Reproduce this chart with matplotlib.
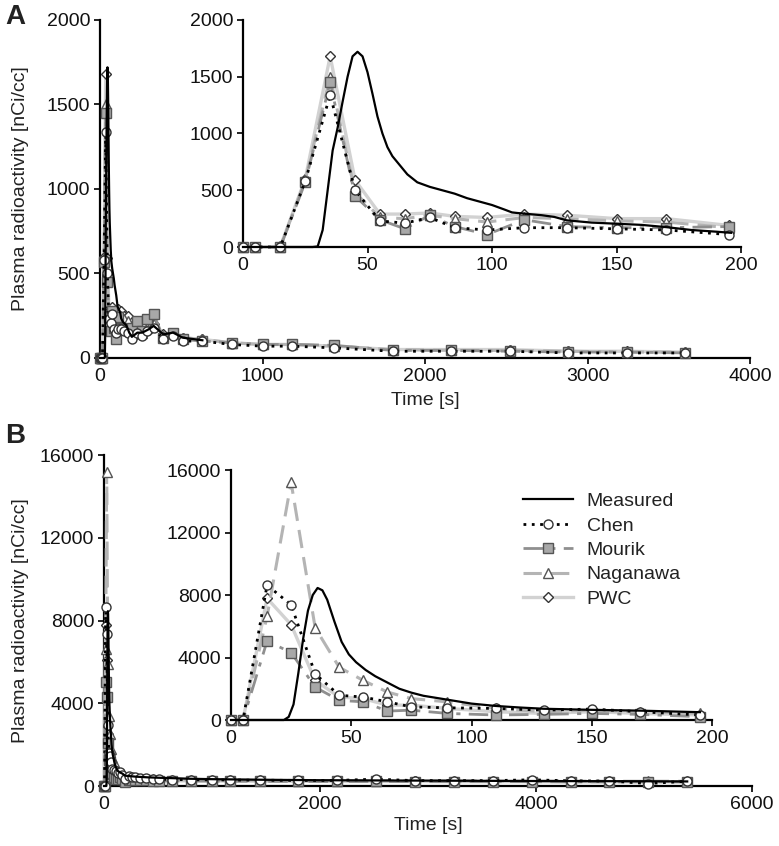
import numpy as np
import matplotlib
matplotlib.use("Agg")
import matplotlib.pyplot as plt

plt.rcParams['font.family'] = ['Liberation Sans', 'DejaVu Sans']
plt.rcParams['font.size'] = 14
plt.rcParams['text.color'] = '#222222'
plt.rcParams['axes.labelcolor'] = '#222222'
plt.rcParams['xtick.color'] = '#111111'
plt.rcParams['ytick.color'] = '#111111'

# ---------------- Panel A data ----------------
t_meas_a = [0, 28, 30, 32, 34, 36, 38, 40, 42, 44, 46, 48, 50, 52, 54, 56, 58, 60, 63, 66,
            70, 75, 80, 85, 90, 95, 100, 105, 108, 110, 115, 120, 125, 130, 140, 150, 160,
            170, 180, 190, 196, 230, 260, 300, 330, 390, 450, 510, 630]
meas_a = [0, 0, 5, 150, 500, 850, 1050, 1280, 1500, 1680, 1720, 1680, 1540, 1350, 1150, 1000,
          880, 800, 720, 640, 570, 530, 500, 470, 430, 400, 370, 330, 305, 300, 290, 280, 265,
          235, 215, 205, 195, 175, 150, 135, 125, 150, 150, 170, 190, 140, 150, 120, 105]

t_mod_a = [0, 5, 15, 25, 35, 45, 55, 65, 75, 85, 98, 113, 130, 150, 170, 195,
           230, 260, 290, 330, 390, 450, 510, 630, 810, 1000, 1180, 1440, 1800, 2160,
           2520, 2880, 3240, 3600]
chen_a = [0, 0, 0, 580, 1340, 500, 230, 210, 260, 170, 150, 170, 170, 160, 150, 110,
          150, 130, 160, 180, 110, 130, 100, 100, 80, 70, 70, 60, 40, 40, 40, 30, 30, 30]
mourik_a = [0, 0, 0, 570, 1450, 450, 240, 160, 280, 180, 110, 240, 180, 170, 170, 180,
            220, 160, 230, 260, 120, 150, 110, 100, 90, 80, 80, 75, 45, 45, 40, 35, 35, 30]
naga_a = [0, 0, 0, 590, 1500, 480, 260, 250, 280, 250, 220, 260, 250, 230, 220, 170,
          160, 150, 180, 200, 130, 150, 120, 110, 90, 80, 80, 70, 50, 45, 45, 40, 35, 35]
pwc_a = [0, 0, 5, 600, 1680, 590, 290, 290, 300, 270, 260, 290, 280, 250, 250, 190,
         140, 150, 170, 200, 140, 150, 120, 110, 90, 80, 80, 70, 50, 50, 50, 40, 40, 35]

# ---------------- Panel B data ----------------
t_meas_b = [0, 20, 22, 24, 26, 28, 30, 32, 34, 36, 38, 40, 43, 46, 49, 52, 56, 60, 65, 70,
            75, 80, 90, 100, 110, 120, 130, 150, 170, 195, 230, 300, 400, 500, 630, 800,
            1000, 1500, 2000, 3000, 4000, 5000, 5400]
meas_b = [0, 0, 0, 200, 1000, 3000, 5200, 7000, 8000, 8450, 8300, 7700, 6300, 5000, 4200,
          3700, 3200, 2800, 2400, 2000, 1750, 1550, 1300, 1050, 900, 800, 720, 650, 600, 500,
          480, 450, 420, 400, 380, 350, 330, 300, 280, 260, 240, 230, 220]

t_mod_b = [0, 5, 15, 25, 35, 45, 55, 65, 75, 90, 110, 130, 150, 170, 195,
           230, 260, 290, 330, 390, 450, 510, 630, 810, 1000, 1170, 1440, 1800, 2160,
           2520, 2880, 3240, 3600, 3960, 4320, 4680, 5040, 5400]
chen_b = [0, 0, 8630, 7370, 2950, 1580, 1470, 1160, 840, 780, 740, 630, 700, 530, 320,
          500, 450, 420, 400, 380, 350, 330, 310, 300, 300, 290, 280, 270, 270, 330, 260,
          260, 260, 300, 250, 240, 120, 230]
mourik_b = [0, 0, 5050, 4320, 2100, 1260, 1160, 570, 630, 420, 320, 360, 420, 360, 210,
            300, 300, 280, 280, 270, 260, 250, 250, 240, 240, 230, 230, 220, 220, 220, 210,
            210, 210, 210, 200, 200, 200, 200]
naga_b = [0, 0, 6630, 15200, 5900, 3370, 2530, 1790, 1370, 1160, 740, 530, 630, 530, 420,
          400, 380, 360, 350, 330, 320, 310, 300, 290, 280, 280, 270, 260, 260, 250, 250,
          250, 240, 240, 240, 230, 230, 230]
pwc_b = [0, 0, 7790, 6100, 2530, 1470, 1370, 950, 950, 740, 530, 420, 530, 420, 320,
         320, 300, 300, 290, 280, 270, 260, 250, 250, 240, 240, 230, 230, 220, 220, 220,
         210, 210, 210, 200, 200, 200, 200]

# ---------------- styles ----------------
styles = {
    'PWC': dict(color='#d2d2d2', lw=2.4, ls='-', marker='D', ms=5.5, mfc='white', mec='#333333', mew=1.0),
    'Naganawa': dict(color='#b4b4b4', lw=2.2, ls=(0, (6, 3)), marker='^', ms=6.5, mfc='white', mec='#555555', mew=1.0),
    'Mourik': dict(color='#8f8f8f', lw=2.0, ls=(0, (7, 3, 1.5, 3)), marker='s', ms=6.5, mfc='#a8a8a8', mec='#555555', mew=1.0),
    'Chen': dict(color='black', lw=2.0, ls=(0, (1, 2)), marker='o', ms=6.5, mfc='white', mec='#333333', mew=1.0),
}


def style_axes(ax):
    for s in ['top', 'right']:
        ax.spines[s].set_visible(False)
    for s in ['left', 'bottom']:
        ax.spines[s].set_linewidth(1.6)
    ax.tick_params(direction='out', length=4, width=1.3, pad=3, labelsize=14)


def draw(ax, t_meas, meas, t_mod, models, xmax):
    tm = np.array(t_mod)
    keep = tm <= xmax
    handles = {}
    for name in ['PWC', 'Naganawa', 'Mourik', 'Chen']:
        v = np.array(models[name])
        h, = ax.plot(tm[keep], v[keep], label=name, clip_on=False, zorder=3, **styles[name])
        handles[name] = h
    tmm = np.array(t_meas)
    vm = np.array(meas)
    k2 = tmm <= xmax
    h, = ax.plot(tmm[k2], vm[k2], color='black', lw=1.6, label='Measured', zorder=4, clip_on=False)
    handles['Measured'] = h
    return handles


W, H = 779, 846
fig = plt.figure(figsize=(W / 100, H / 100), dpi=100)


def axpx(l, r, top, bot):
    return fig.add_axes([l / W, (H - bot) / H, (r - l) / W, (bot - top) / H])


models_a = {'Chen': chen_a, 'Mourik': mourik_a, 'Naganawa': naga_a, 'PWC': pwc_a}
models_b = {'Chen': chen_b, 'Mourik': mourik_b, 'Naganawa': naga_b, 'PWC': pwc_b}

# Panel A main
axA = axpx(100, 750, 20, 358)
draw(axA, t_meas_a, meas_a, t_mod_a, models_a, 4000)
axA.set_xlim(0, 4000)
axA.set_ylim(0, 2000)
axA.set_xticks([0, 1000, 2000, 3000, 4000])
axA.set_yticks([0, 500, 1000, 1500, 2000])
axA.set_xlabel('Time [s]', labelpad=5)
axA.set_ylabel('Plasma radioactivity [nCi/cc]')
axA.yaxis.set_label_coords((29 - 100) / 650, 0.5)
style_axes(axA)

# Panel A inset
axAi = axpx(243, 741, 20, 247)
axAi.patch.set_alpha(0)
draw(axAi, t_meas_a, meas_a, t_mod_a, models_a, 200)
axAi.set_xlim(0, 200)
axAi.set_ylim(0, 2000)
axAi.set_xticks([0, 50, 100, 150, 200])
axAi.set_yticks([0, 500, 1000, 1500, 2000])
style_axes(axAi)

# Panel B main
axB = axpx(104, 752, 455, 786)
draw(axB, t_meas_b, meas_b, t_mod_b, models_b, 6000)
axB.set_xlim(0, 6000)
axB.set_ylim(0, 16000)
axB.set_xticks([0, 2000, 4000, 6000])
axB.set_yticks([0, 4000, 8000, 12000, 16000])
axB.set_xlabel('Time [s]', labelpad=3)
axB.set_ylabel('Plasma radioactivity [nCi/cc]')
axB.yaxis.set_label_coords((29 - 104) / 648, 0.5)
style_axes(axB)

# Panel B inset
axBi = axpx(231, 712, 470, 720)
axBi.patch.set_alpha(0)
hb = draw(axBi, t_meas_b, meas_b, t_mod_b, models_b, 200)
axBi.set_xlim(0, 200)
axBi.set_ylim(0, 16000)
axBi.set_xticks([0, 50, 100, 150, 200])
axBi.set_yticks([0, 4000, 8000, 12000, 16000])
style_axes(axBi)

order = ['Measured', 'Chen', 'Mourik', 'Naganawa', 'PWC']
fig.legend([hb[k] for k in order], order, loc='upper left',
           bbox_to_anchor=(505 / W, 1 - 475 / H), frameon=False, fontsize=14,
           handlelength=2.6, labelspacing=0.35, handletextpad=0.7)

fig.text(5 / W, 1 - 17 / H, 'A', fontsize=20, fontweight='bold', va='center')
fig.text(5 / W, 1 - 436 / H, 'B', fontsize=20, fontweight='bold', va='center')

fig.savefig('out.png', dpi=100)
